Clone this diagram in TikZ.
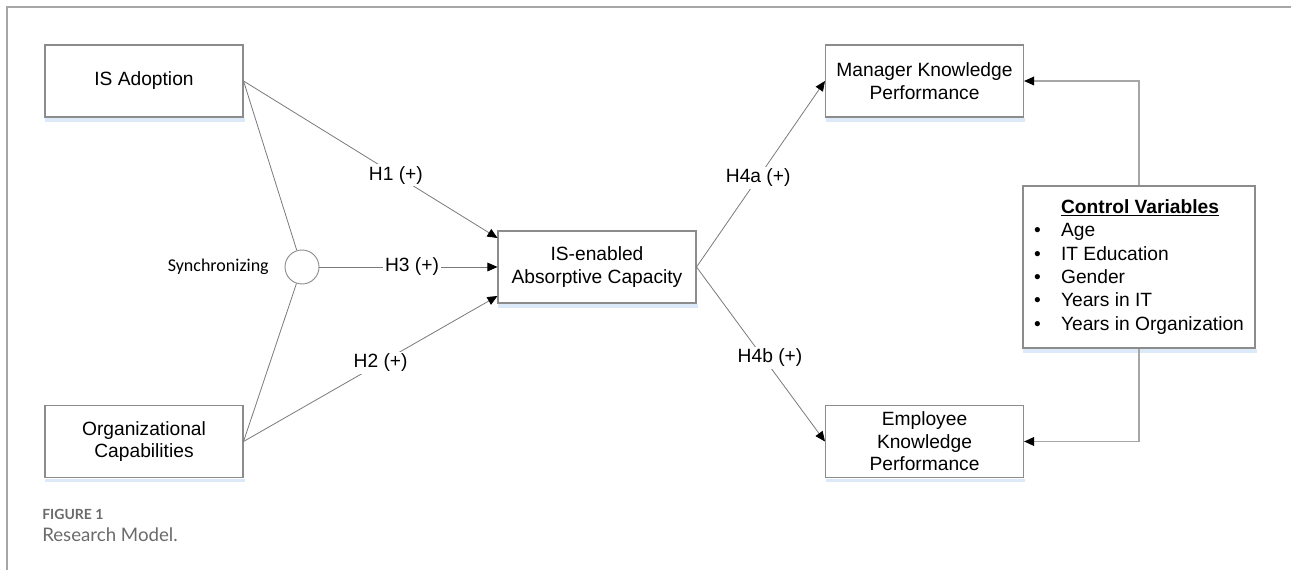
\documentclass[tikz,border=0pt]{standalone}
\usepackage{fontspec}
\setmainfont{Liberation Sans}
\newfontfamily\syncfont{Carlito}
\newfontfamily\capfont{Lato}
\usetikzlibrary{arrows.meta}
\definecolor{boxgray}{HTML}{8C8C8C}
\definecolor{linegray}{HTML}{7A7A7A}
\definecolor{framegray}{HTML}{A6A6A6}
\definecolor{shadowblue}{HTML}{DCE9F8}
\definecolor{capgray}{HTML}{6B6B6B}
\tikzset{box/.style={
    draw=boxgray, line width=0.8pt, fill=white,
    minimum width=148.5pt, minimum height=54pt,
    inner sep=2pt, align=center, font=\fontsize{14.4}{16.8}\selectfont
  },
  link/.style={draw=linegray, line width=0.6pt},
  arrow/.style={link, -{Triangle[length=7.5pt,width=6.5pt,color=black]}},
  ctrlline/.style={draw=framegray, line width=1pt, -{Triangle[length=7.5pt,width=6.5pt,color=black]}},
  hyp/.style={fill=white, inner sep=1.5pt, font=\fontsize{14.4}{16.8}\selectfont}
}
\newcommand{\ctrlitem}[1]{\makebox[20.25pt][l]{\textbullet}#1}

\begin{document}
\begin{tikzpicture}[x=0.75pt,y=-0.75pt]
  \useasboundingbox (0,0) rectangle (1291,570);
  \draw[framegray, line width=1.1pt] (7,570) -- (7,7) -- (1291,7);
  \node[box] (adopt) at (144,81) {IS Adoption};
  \node[box] (orgcap) at (144,441.5) {Organizational\\Capabilities};
  \node[box] (absorb) at (597,267) {IS-enabled\\Absorptive Capacity};
  \node[box] (mgr) at (924.5,81) {Manager Knowledge\\Performance};
  \node[box] (emp) at (924.5,441.5) {Employee\\Knowledge\\Performance};
  \node[box, minimum width=174pt, minimum height=121.5pt, align=left,
    font=\fontsize{14.4}{17.5}\selectfont] (ctrl) at (1139,267)
    {\hspace*{20.25pt}\underline{\textbf{Control Variables}}\\
     \ctrlitem{Age}\\ \ctrlitem{IT Education}\\ \ctrlitem{Gender}\\
     \ctrlitem{Years in IT}\\ \ctrlitem{Years in Organization}};
  \node[circle, draw=boxgray, line width=0.7pt, minimum size=25.5pt, inner sep=0pt] (sync) at (302,267) {};
  \node[anchor=east, inner sep=0pt, font=\syncfont\fontsize{13.5}{16}\selectfont] (synclabel) at (269,267) {Synchronizing};
  \foreach \n in {adopt,orgcap,absorb,mgr,emp,ctrl}
    \fill[shadowblue] ([xshift=0.75pt,yshift=-0.6pt]\n.south west) rectangle ([xshift=0.75pt,yshift=-3.3pt]\n.south east);
  \draw[link] (adopt.east) -- (sync);
  \draw[link] (orgcap.east) -- (sync);
  \draw[arrow] (adopt.east) -- node[hyp, pos=0.6] {H1 (+)} ([yshift=21.75pt]absorb.west);
  \draw[arrow] (sync) -- node[hyp, pos=0.52] {H3 (+)} (absorb.west);
  \draw[arrow] (orgcap.east) -- node[hyp, pos=0.54] {H2 (+)} ([yshift=-21.75pt]absorb.west);
  \draw[arrow] (absorb.east) -- node[hyp, pos=0.48] {H4a (+)} (mgr.west);
  \draw[arrow] (absorb.east) -- node[hyp, pos=0.52, xshift=5pt] {H4b (+)} (emp.west);
  \draw[ctrlline] (ctrl.north) |- (mgr.east);
  \draw[ctrlline] (ctrl.south) |- (emp.east);
  \node[anchor=base west, inner sep=0pt, text=capgray, font=\capfont\bfseries\fontsize{10.5}{12}\selectfont] (fignum) at (42,519) {FIGURE 1};
  \node[anchor=base west, inner sep=0pt, text=capgray, font=\capfont\fontsize{14}{16}\selectfont] (figcap) at (42,541) {Research Model.};
\end{tikzpicture}
\end{document}
